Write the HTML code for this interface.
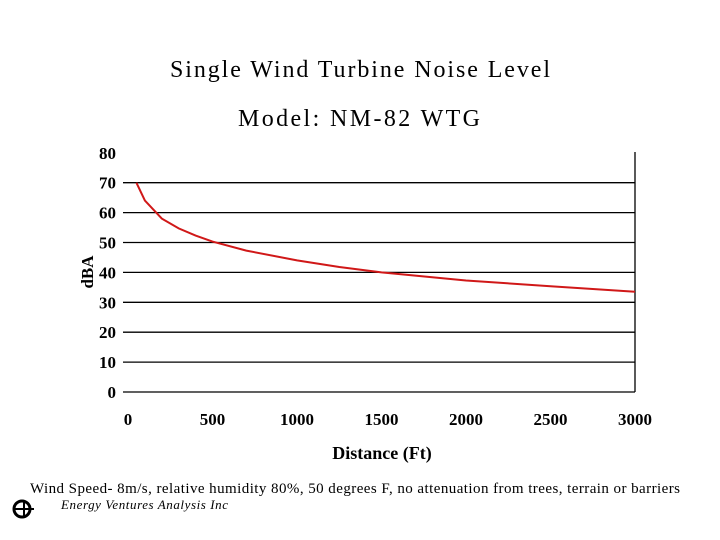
<!DOCTYPE html>
<html><head><meta charset="utf-8"><style>
body{margin:0;background:#fff;}
svg{display:block;font-family:"Liberation Serif",serif;}
</style></head><body>
<svg width="720" height="540">
<text x="170" y="77" font-size="24" textLength="380" lengthAdjust="spacing">Single Wind Turbine Noise Level</text>
<text x="238" y="126" font-size="24" textLength="242" lengthAdjust="spacing">Model: NM-82 WTG</text>
<g id="grid"></g><g id="yt"></g><g id="xt"></g>
<line x1="635" y1="152" x2="635" y2="392" stroke="#000" stroke-width="1.3"/>
<path id="curve" fill="none" stroke="#d01818" stroke-width="2"/>
<text x="93" y="272" font-size="17" font-weight="bold" text-anchor="middle" transform="rotate(-90 93 272)">dBA</text>
<text x="382" y="459" font-size="18" font-weight="bold" text-anchor="middle">Distance (Ft)</text>
<text x="30" y="493" font-size="15" textLength="650" lengthAdjust="spacing">Wind Speed- 8m/s, relative humidity 80%, 50 degrees F, no attenuation from trees, terrain or barriers</text>
<text x="61" y="509" font-size="13" font-style="italic" textLength="167" lengthAdjust="spacing">Energy Ventures Analysis Inc</text>
<g><circle cx="22" cy="509" r="8" fill="none" stroke="#000" stroke-width="3"/><line x1="14" y1="509" x2="34" y2="509" stroke="#000" stroke-width="2"/><line x1="24" y1="500" x2="24" y2="518" stroke="#000" stroke-width="2"/></g>
</svg>
<script>
const yTicks=[0,10,20,30,40,50,60,70,80];
const xTicks=[0,500,1000,1500,2000,2500,3000];
const distances=[50,100,200,300,400,500,700,1000,1250,1500,2000,2500,3000];
const dba=[70,64,58,54.7,52.3,50.3,47.3,44,41.8,40,37.3,35.4,33.5];
const NS="http://www.w3.org/2000/svg";
function X(v){return 128+v/3000*507;}
function Y(v){return 392-v*2.99;}
function mk(t,a,p){const e=document.createElementNS(NS,t);for(const k in a)e.setAttribute(k,a[k]);document.getElementById(p).appendChild(e);return e;}
yTicks.forEach(v=>{
 if(v<80){const l=mk('line',{x1:123,x2:635,y1:Y(v),y2:Y(v),stroke:'#000','stroke-width':1.3},'grid');
 
 }
 const t=mk('text',{x:116,y:Y(v)+6,'font-size':17,'font-weight':'bold','text-anchor':'end'},'yt');t.textContent=v;
 
 
});
xTicks.forEach(v=>{
 const t=mk('text',{x:X(v),y:425,'font-size':17,'font-weight':'bold','text-anchor':'middle'},'xt');t.textContent=v;
 
 
});
document.getElementById('curve').setAttribute('d',distances.map((d,i)=>(i?'L':'M')+X(d).toFixed(1)+','+Y(dba[i]).toFixed(1)).join(' '));
</script>
</body></html>
